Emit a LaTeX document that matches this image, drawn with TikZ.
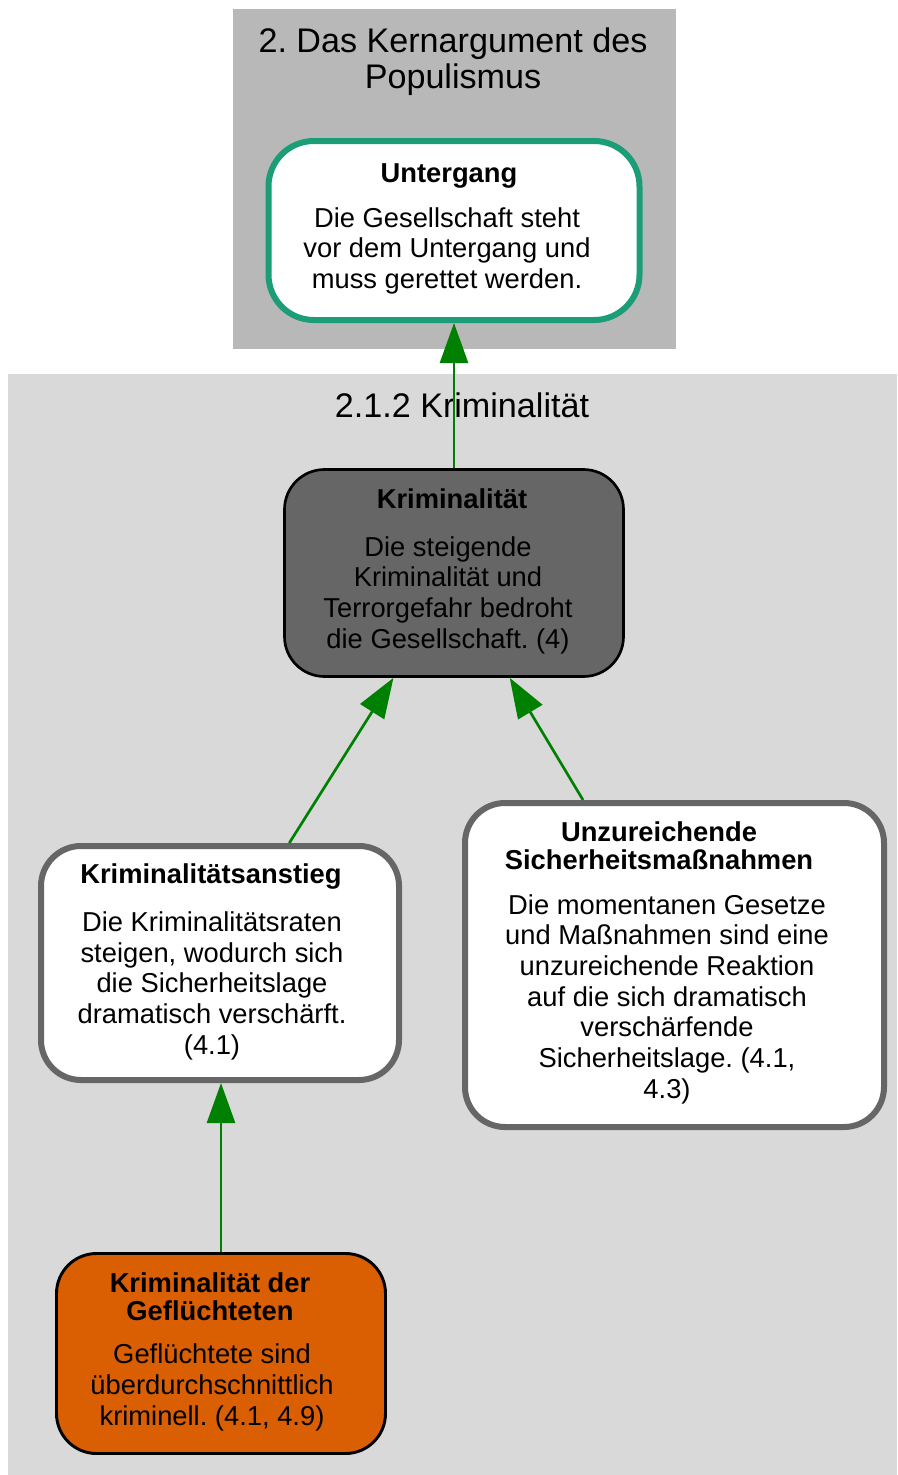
\documentclass[tikz,border=0pt]{standalone}
\usepackage{fontspec}
\setmainfont{Liberation Sans}
\frenchspacing
\usetikzlibrary{arrows.meta}
\definecolor{clustertop}{HTML}{B8B8B8}
\definecolor{clusterbot}{HTML}{D9D9D9}
\definecolor{edgegreen}{HTML}{008000}
\definecolor{kerngreen}{HTML}{1B9E77}
\definecolor{boxgray}{HTML}{666666}
\definecolor{boxorange}{HTML}{D95F02}

\begin{document}
\begin{tikzpicture}[x=0.75pt,y=-0.75pt,
	box/.style={rectangle,rounded corners=30pt,inner sep=0pt},
	heading/.style={font=\fontsize{25.6}{27}\selectfont,align=center,anchor=base,inner sep=0pt},
	title/.style={font=\fontsize{20.5}{20.6}\selectfont\bfseries,align=center,anchor=base,inner sep=0pt},
	body/.style={font=\fontsize{20.5}{23}\selectfont,align=center,anchor=base,inner sep=0pt},
	edge/.style={draw=edgegreen,line width=2pt,-{Triangle[length=30pt,width=21pt]}}]
	\useasboundingbox (0,0) rectangle (897,1475);
	\fill[white] (0,0) rectangle (897,1475);
	\fill[clustertop] (233,9) rectangle (676,349);
	\fill[clusterbot] (8,374) rectangle (897,1475);
	\node (kern) [heading] at (453,88) {2. Das Kernargument des\\Populismus};
	\node (krimcluster) [heading] at (462,417) {2.1.2 Kriminalität};
	\node (untergang) [box,draw=kerngreen,fill=white,line width=4.5pt,rounded corners=34pt,minimum width=278.25pt,minimum height=134.25pt] at (454,230.5) {};
	\node (krim) [box,draw=black,fill=boxgray,line width=2pt,minimum width=254.25pt,minimum height=155.25pt] at (454,573) {};
	\node (anstieg) [box,draw=boxgray,fill=white,line width=4.5pt,minimum width=268.5pt,minimum height=175.5pt] at (220,963) {};
	\node (unz) [box,draw=boxgray,fill=white,line width=4.5pt,minimum width=314.25pt,minimum height=243pt] at (674.5,965) {};
	\node (gefl) [box,draw=black,fill=boxorange,line width=2.2pt,minimum width=246.75pt,minimum height=150pt] at (221,1353.5) {};
	\node (untergang-title) [title] at (449,182) {Untergang};
	\node (untergang-text) [body] at (447,288.5) {Die Gesellschaft steht\\vor dem Untergang und\\muss gerettet werden.};
	\node (krim-title) [title] at (452,508) {Kriminalität};
	\node (krim-text) [body] at (448,648) {Die steigende\\Kriminalität und\\Terrorgefahr bedroht\\die Gesellschaft. (4)};
	\node (anstieg-title) [title] at (211,883) {Kriminalitätsanstieg};
	\node (anstieg-text) [body] at (212,1054) {Die Kriminalitätsraten\\steigen, wodurch sich\\die Sicherheitslage\\dramatisch verschärft.\\(4.1)};
	\node (unz-title) [title] at (659,869) {Unzureichende\\Sicherheitsmaßnahmen};
	\node (unz-text) [body] at (667,1098) {Die momentanen Gesetze\\und Maßnahmen sind eine\\unzureichende Reaktion\\auf die sich dramatisch\\verschärfende\\Sicherheitslage. (4.1,\\4.3)};
	\node (gefl-title) [title] at (210,1320) {Kriminalität der\\Geflüchteten};
	\node (gefl-text) [body] at (212,1425) {Geflüchtete sind\\überdurchschnittlich\\kriminell. (4.1, 4.9)};
	\draw[edge] (krim.north) -- (untergang.south);
	\draw[edge] (anstieg.60) -- (krim.240);
	\draw[edge] (unz.119) -- (krim.298);
	\draw[edge] (gefl.north) -- (gefl.north |- anstieg.south);
\end{tikzpicture}
\end{document}
